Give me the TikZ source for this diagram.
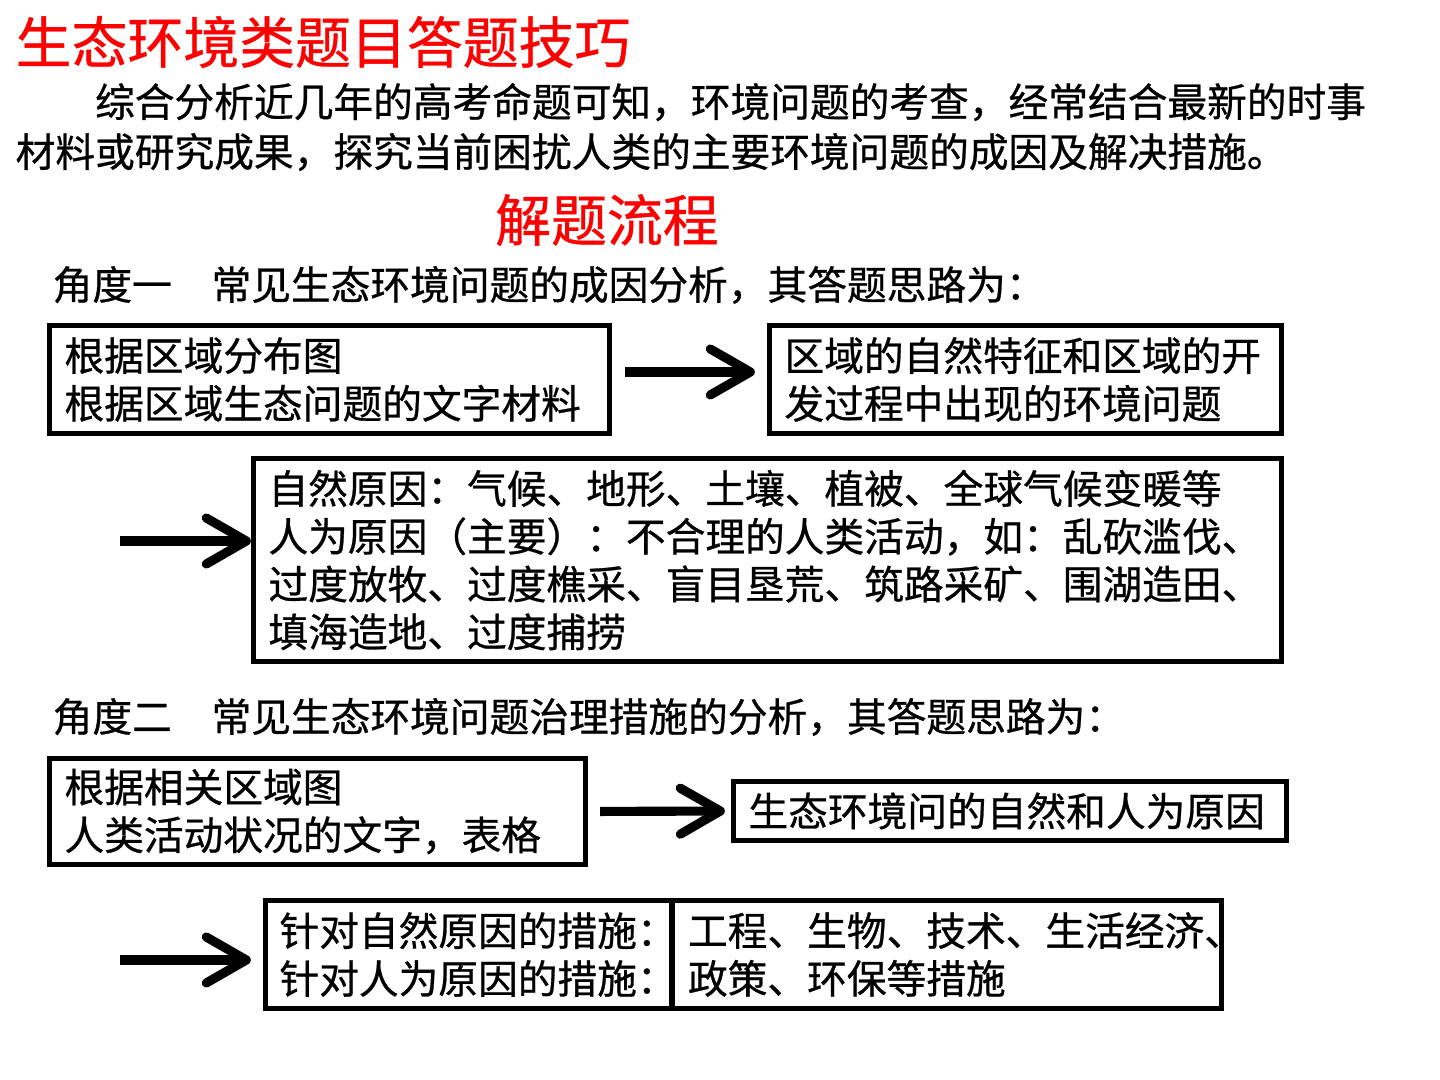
\documentclass[tikz,border=0pt]{standalone}
\usepackage{fontspec}
\setmainfont{Noto Sans CJK SC}[FakeBold=0.7]
\usetikzlibrary{positioning, arrows.meta}
\tikzset{box/.style={draw, line width=1.5pt, align=left, inner xsep=0.15cm, inner ysep=0pt, font=\fontsize{11.3}{13.6}\selectfont},
         bigarrow/.style={line width=2.6pt, -{Straight Barb[length=4mm, width=4.6mm, round]}},
         headline/.style={text=red, inner sep=0pt, font=\fontsize{15.9}{18}\selectfont},
         bodytext/.style={inner sep=0pt, align=left, font=\fontsize{11.3}{14.2}\selectfont},
        }
\begin{document}
\begin{tikzpicture}
        \useasboundingbox(0,0)rectangle(14.4,10.8);
        \node[headline, anchor=west](title)at(0.15,10.38){生态环境类题目答题技巧};
        \node[bodytext, anchor=west](intro)at(0.15,9.53){\hspace*{2em}综合分析近几年的高考命题可知，环境问题的考查，经常结合最新的时事\\材料或研究成果，探究当前困扰人类的主要环境问题的成因及解决措施。};
        \node[headline](flow)at(6.07,8.60){解题流程};

        \node[bodytext, anchor=west](angle1)at(0.52,7.95){角度一　常见生态环境问题的成因分析，其答题思路为：};
        \node[box, text width=5.3cm, minimum height=1.08cm](b1)at(3.295,7.005){根据区域分布图\\根据区域生态问题的文字材料};
        \node[box, text width=4.82cm, minimum height=1.08cm](b2)at(10.255,7.005){区域的自然特征和区域的开\\发过程中出现的环境问题};
        \node[box, text width=9.98cm, minimum height=2.03cm](b3)at(7.675,5.20){自然原因：气候、地形、土壤、植被、全球气候变暖等\\人为原因（主要）：不合理的人类活动，如：乱砍滥伐、\\过度放牧、过度樵采、盲目垦荒、筑路采矿、围湖造田、\\填海造地、过度捕捞};
        \draw[bigarrow, shorten <=0.13cm, shorten >=0.12cm]([yshift=0.075cm]b1.east)--([yshift=0.075cm]b2.west);
        \coordinate(a2)at(1.2,5.39);
        \draw[bigarrow](a2)--(a2-|b3.west);

        \node[bodytext, anchor=west](angle2)at(0.52,3.63){角度二　常见生态环境问题治理措施的分析，其答题思路为：};
        \node[box, text width=5.06cm, minimum height=1.06cm](b4)at(3.175,2.685){根据相关区域图\\人类活动状况的文字，表格};
        \node[box, text width=5.23cm, minimum height=0.59cm](b5)at(10.10,2.69){生态环境问的自然和人为原因};
        \node[box, text width=3.785cm, inner xsep=0.14cm, minimum height=1.08cm](b6l)at(4.6875,1.255){针对自然原因的措施：\\针对人为原因的措施：};
        \node[box, text width=5.175cm, inner xsep=0.16cm, minimum height=1.08cm, right=-1.5pt of b6l](b6r){工程、生物、技术、生活经济、\\政策、环保等措施};
        \draw[bigarrow, shorten <=0.12cm, shorten >=0.06cm](b4.east)--(b5.west);
        \coordinate(a4)at(1.2,1.20);
        \draw[bigarrow, shorten >=0.12cm](a4)--(a4-|b6l.west);
    \end{tikzpicture}
\end{document}
